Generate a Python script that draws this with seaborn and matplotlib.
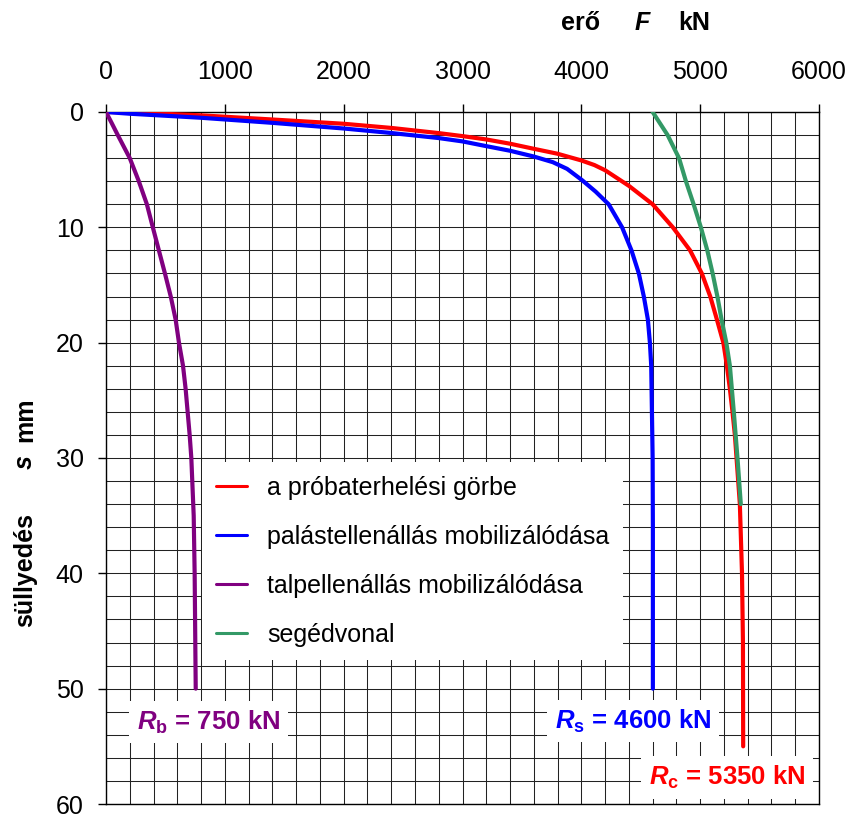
import numpy as np
import pandas as pd
import matplotlib
matplotlib.use("Agg")
import matplotlib.pyplot as plt
import seaborn as sns

# ---------------- data ----------------
# test load curve (a próbaterhelési görbe): force F [kN] vs settlement s [mm]
red_F = [0, 200, 800, 1400, 2000, 2400, 2800, 3000, 3200, 3400, 3600, 3800, 4000,
         4110, 4200, 4400, 4600, 4770, 4915, 5014, 5085, 5141, 5195, 5225, 5250, 5272,
         5292, 5306, 5320, 5334, 5340, 5352, 5360, 5362]
red_s = [0, 0.03, 0.29, 0.65, 1.02, 1.38, 1.83, 2.09, 2.38, 2.75, 3.19, 3.62, 4.2,
         4.6, 5.05, 6.4, 8.0, 10.0, 12.0, 14.0, 16.0, 18.0, 20.0, 22.0, 24.0, 26.0,
         28.0, 30.0, 32.0, 34.0, 36.0, 40.0, 46.0, 55.0]

# shaft resistance mobilisation (palástellenállás mobilizálódása)
blue_F = [0, 200, 800, 1400, 2000, 2400, 2800, 3000, 3200, 3400, 3600, 3760, 3880,
          4005, 4120, 4230, 4343, 4422, 4484, 4526, 4560, 4577, 4588, 4594, 4600, 4602, 4602]
blue_s = [0, 0.15, 0.5, 0.94, 1.43, 1.82, 2.26, 2.55, 2.96, 3.36, 3.86, 4.35, 4.93,
          5.9, 6.9, 8.0, 10.0, 12.0, 14.0, 16.0, 18.0, 20.0, 22.0, 26.0, 30.0, 36.0, 50.0]

# base resistance mobilisation (talpellenállás mobilizálódása)
purple_F = [0, 50, 99, 200, 276, 344, 394, 445, 496, 545, 586, 614, 648, 670, 687,
            704, 718, 738, 746, 755]
purple_s = [0, 1, 2, 4, 6, 8, 10, 12, 14, 16, 18, 20, 22, 24, 26, 28, 30, 35, 40, 50]

# auxiliary line (segédvonal)
green_F = [4600, 4726, 4822, 4880, 4945, 5006, 5060, 5105, 5145, 5180, 5220, 5250,
           5283, 5314, 5342]
green_s = [0, 2, 4, 6, 8, 10, 12, 14, 16, 18, 20, 22, 26, 30, 34]

series_labels = ["a próbaterhelési görbe", "palástellenállás mobilizálódása",
                 "talpellenállás mobilizálódása", "segédvonal"]
series_colors = ["#FF0000", "#0000FF", "#800080", "#339966"]

x_ticks = [0, 1000, 2000, 3000, 4000, 5000, 6000]
y_ticks = [0, 10, 20, 30, 40, 50, 60]

annot_texts = [r"$\mathbfit{R}_{\mathbf{b}}$ = 750 kN",
               r"$\mathbfit{R}_{\mathbf{s}}$ = 4600 kN",
               r"$\mathbfit{R}_{\mathbf{c}}$ = 5350 kN"]

# ---------------- style ----------------
sns.set_theme(style="white")
plt.rcParams["font.family"] = ["Liberation Sans", "DejaVu Sans"]
plt.rcParams["mathtext.fontset"] = "custom"
plt.rcParams["mathtext.rm"] = "Liberation Sans"
plt.rcParams["mathtext.it"] = "Liberation Sans:italic"
plt.rcParams["mathtext.bf"] = "Liberation Sans:bold"
plt.rcParams["mathtext.bfit"] = "Liberation Sans:italic:bold"
for k in ["text.color", "axes.labelcolor", "xtick.color", "ytick.color"]:
    plt.rcParams[k] = "black"

W, H = 851, 814
fig = plt.figure(figsize=(W / 100, H / 100), dpi=100)
ax = fig.add_axes([106 / W, 1 - 804 / H, (819 - 106) / W, (804 - 112) / H])

frames = [
    pd.DataFrame({"F": red_F, "s": red_s}),
    pd.DataFrame({"F": blue_F, "s": blue_s}),
    pd.DataFrame({"F": purple_F, "s": purple_s}),
    pd.DataFrame({"F": green_F, "s": green_s}),
]
for df, lab, col in zip(frames, series_labels, series_colors):
    sns.lineplot(data=df, x="F", y="s", sort=False, estimator=None, ax=ax,
                 color=col, linewidth=3.0, label=lab, zorder=3)

ax.set_xlim(0, 6000)
ax.set_ylim(60, 0)
ax.set_xticks(x_ticks)
ax.set_xticks(np.arange(0, 6001, 200), minor=True)
ax.set_yticks(y_ticks)
ax.set_yticks(np.arange(0, 61, 2), minor=True)
ax.set_xticklabels([str(v) for v in x_ticks])
ax.set_yticklabels([str(v) for v in y_ticks])
ax.xaxis.tick_top()
ax.tick_params(axis="x", which="major", top=True, bottom=False, labeltop=True,
               labelbottom=False, length=6, width=1, color="black",
               labelcolor="black", direction="out", pad=14, labelsize=18)
ax.tick_params(axis="y", which="major", left=True, length=6, width=1,
               color="black", labelcolor="black", direction="out", pad=10,
               labelsize=18)
ax.tick_params(which="minor", length=0)
ax.grid(which="both", color="#222222", linewidth=0.75)
ax.set_axisbelow(True)
for sp in ax.spines.values():
    sp.set_color("black")
    sp.set_linewidth(1.0)
ax.set_xlabel("")
ax.set_ylabel("")

# legend
leg = ax.legend(loc="upper left",
                bbox_to_anchor=((202 - 106) / 713, (804 - 462) / 692),
                borderaxespad=0, frameon=True, fancybox=False,
                fontsize=18, handlelength=1.25, handletextpad=0.8,
                labelspacing=1.0, borderpad=0.55)
leg.get_frame().set_facecolor("white")
leg.get_frame().set_edgecolor("none")
leg.get_frame().set_alpha(1)
for h in leg.get_lines():
    h.set_linewidth(2.2)
for t in leg.get_texts():
    t.set_color("black")
leg.set_zorder(5)

# resistance annotations
annot_pos = [(860, 52.9), (4436, 52.8), (5227, 57.7)]
annot_cols = ["#800080", "#0000FF", "#FF0000"]
for t, (x, y), c in zip(annot_texts, annot_pos, annot_cols):
    ax.text(x, y, t, ha="center", va="center", color=c, fontsize=18.5,
            fontweight="bold", zorder=6,
            bbox=dict(boxstyle="square,pad=0.3", facecolor="white",
                      edgecolor="none"))

# axis titles
fig.text(581 / W, 1 - 23 / H, "erő", ha="center", va="center",
         fontsize=18, fontweight="bold")
fig.text(642 / W, 1 - 23 / H, "F", ha="center", va="center",
         fontsize=18, fontweight="bold", style="italic")
fig.text(694 / W, 1 - 23 / H, "kN", ha="center", va="center",
         fontsize=18, fontweight="bold")

fig.text(25 / W, 1 - 570 / H, "süllyedés", ha="center", va="center",
         rotation=90, fontsize=18, fontweight="bold")
fig.text(25 / W, 1 - 462 / H, "s", ha="center", va="center",
         rotation=90, fontsize=18, fontweight="bold", style="italic")
fig.text(25 / W, 1 - 420 / H, "mm", ha="center", va="center",
         rotation=90, fontsize=18, fontweight="bold")

fig.savefig("out.png", dpi=100, facecolor="white")
